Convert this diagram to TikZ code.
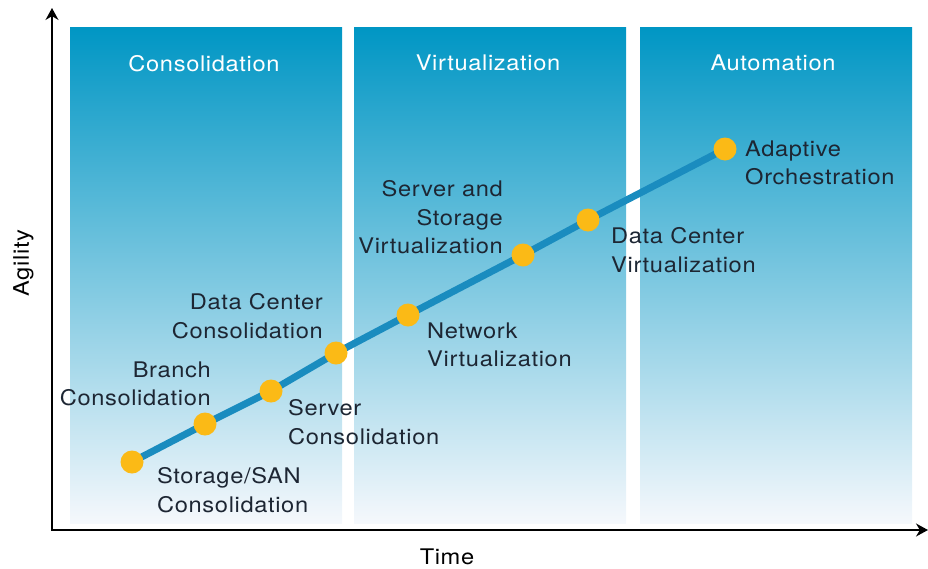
\documentclass[tikz,border=0pt]{standalone}
\usepackage{fontspec}
\setmainfont{TeX Gyre Heros}[FakeStretch=1.1,LetterSpace=3]
\usetikzlibrary{arrows.meta,backgrounds}

\definecolor{paneltop}{HTML}{0096C4}
\definecolor{panelmid}{HTML}{6DB1D7}
\definecolor{panelbot}{HTML}{F5F8FC}
\definecolor{trendblue}{HTML}{1A8CBF}
\definecolor{dotyellow}{HTML}{FBBA16}
\definecolor{labelink}{HTML}{1D2633}

\begin{document}
\begin{tikzpicture}[x=1pt,y=-1pt,>={Stealth[length=12pt,width=13pt]},
    every node/.style={font=\fontsize{21.5}{28.5}\selectfont},
    panel/.style={rectangle, inner sep=0pt, minimum width=272pt, minimum height=496pt,
      top color=paneltop, middle color=panelmid, bottom color=panelbot},
    head/.style={text=white, inner sep=0pt},
    dot/.style={circle, fill=dotyellow, inner sep=0pt, minimum size=23pt},
    lbl/.style={text=labelink, inner sep=0pt},
    trend/.style={draw=trendblue, line width=7pt, line join=round},
    axis/.style={line width=1.6pt, black}]
  \useasboundingbox (0,0) rectangle (928,568);

  \begin{scope}[on background layer]
    \node[panel] (cons) at (206,275) {};
    \node[panel] (virt) at (490,275) {};
    \node[panel] (auto) at (776,275) {};
  \end{scope}

  \node[head] (conshead) at ([shift={(-2,36.5)}]cons.north) {Consolidation};
  \node[head] (virthead) at ([shift={(-2,36.5)}]virt.north) {Virtualization};
  \node[head] (autohead) at ([shift={(-3,36.5)}]auto.north) {Automation};

  \coordinate (origin) at (52,530);
  \coordinate (ytop)   at (52,8);
  \coordinate (xend)   at (928,530);
  \draw[axis,<->] (ytop) -- (origin) -- (xend);

  \node[rotate=90, text=black] (agility) at (23.5,263) {Agility};
  \node[text=black, inner sep=0pt] (time) at (447,557) {Time};

  \node[dot] (san)     at (132,462) {};
  \node[dot] (branch)  at (205,424) {};
  \node[dot] (srvcons) at (271,391) {};
  \node[dot] (dccons)  at (336,353) {};
  \node[dot] (netvirt) at (408,315) {};
  \node[dot] (stovirt) at (523,255) {};
  \node[dot] (dcvirt)  at (588,220) {};
  \node[dot] (orch)    at (725,149) {};

  \begin{scope}[on background layer]
    \draw[trend] (san.center) -- (branch.center) -- (srvcons.center) -- (dccons.center)
      -- (netvirt.center) -- (stovirt.center) -- (dcvirt.center) -- (orch.center);
  \end{scope}

  \node[lbl, anchor=north west, align=left]  (sanlbl)     at ([shift={(25,5.4)}]san.center)     {Storage/SAN\\Consolidation};
  \node[lbl, anchor=north east, align=right] (branchlbl)  at ([shift={(6,-62.6)}]branch.center)  {Branch\\Consolidation};
  \node[lbl, anchor=north west, align=left]  (srvconslbl) at ([shift={(17,8.4)}]srvcons.center) {Server\\Consolidation};
  \node[lbl, anchor=north east, align=right] (dcconslbl)  at ([shift={(-13,-59.6)}]dccons.center) {Data Center\\Consolidation};
  \node[lbl, anchor=north west, align=left]  (netvirtlbl) at ([shift={(19,7.4)}]netvirt.center) {Network\\Virtualization};
  \node[lbl, anchor=north east, align=right] (stovirtlbl) at ([shift={(-20,-74.6)}]stovirt.center) {Server and\\Storage\\Virtualization};
  \node[lbl, anchor=north west, align=left]  (dcvirtlbl)  at ([shift={(23,7.4)}]dcvirt.center)   {Data Center\\Virtualization};
  \node[lbl, anchor=north west, align=left]  (orchlbl)    at ([shift={(20,-8.6)}]orch.center)    {Adaptive\\Orchestration};
\end{tikzpicture}
\end{document}
